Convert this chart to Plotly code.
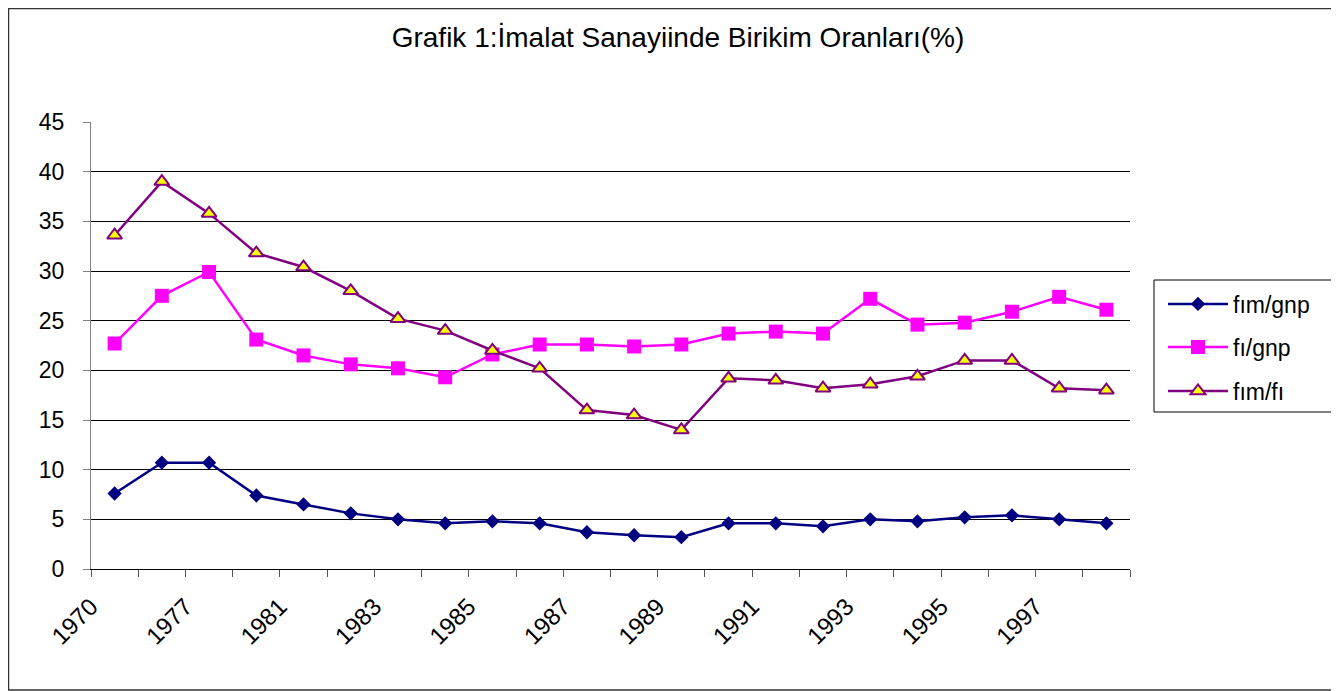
import plotly.graph_objects as go

# ---- data ----
years = ["1970", "1975", "1977", "1980", "1981", "1982", "1983", "1984", "1985", "1986",
         "1987", "1988", "1989", "1990", "1991", "1992", "1993", "1994", "1995", "1996",
         "1997", "1998"]
fim_gnp = [7.6, 10.7, 10.7, 7.4, 6.5, 5.6, 5.0, 4.6, 4.8, 4.6,
           3.7, 3.4, 3.2, 4.6, 4.6, 4.3, 5.0, 4.8, 5.2, 5.4,
           5.0, 4.6]
fi_gnp = [22.7, 27.5, 29.9, 23.1, 21.5, 20.6, 20.2, 19.3, 21.6, 22.6,
          22.6, 22.4, 22.6, 23.7, 23.9, 23.7, 27.2, 24.6, 24.8, 25.9,
          27.4, 26.1]
fim_fi = [33.6, 39.0, 35.8, 31.8, 30.4, 28.0, 25.2, 24.0, 22.0, 20.2,
          16.0, 15.5, 14.0, 19.2, 19.0, 18.2, 18.6, 19.4, 21.0, 21.0,
          18.2, 18.0]
series_names = ["fım/gnp", "fı/gnp", "fım/fı"]
title_text = "Grafik 1:İmalat Sanayiinde Birikim Oranları(%)"

# page offset (default body margin of the html page)
OX, OY = 8, 8
W, H = 1339 - OX, 691 - OY
L = 91 - OX
T = 122 - OY
PW = 1130 - 91
PH = 569 - 122
R = W - L - PW
B = H - T - PH

def px_x(p):  # page pixel x -> paper
    return (p - OX - L) / PW

def px_y(p):  # page pixel y -> paper
    return (T + PH - (p - OY)) / PH

FONT = "Arial, 'Liberation Sans', sans-serif"
idx = list(range(len(years)))

fig = go.Figure()
fig.add_trace(go.Scatter(
    x=idx, y=fim_gnp, name=series_names[0], mode="lines+markers",
    line=dict(color="#000080", width=2.5),
    marker=dict(symbol="diamond", size=11, color="#000080", line=dict(width=0)),
    cliponaxis=False, legend="legend", showlegend=True))
fig.add_trace(go.Scatter(
    x=idx, y=fi_gnp, name=series_names[1], mode="lines+markers",
    line=dict(color="#FF00FF", width=2.5),
    marker=dict(symbol="square", size=14, color="#FF00FF", line=dict(width=0)),
    cliponaxis=False, legend="legend2", showlegend=True))
fig.add_trace(go.Scatter(
    x=idx, y=fim_fi, name=series_names[2], mode="lines+markers",
    line=dict(color="#800080", width=2.5),
    marker=dict(symbol="triangle-up", size=13, color="#FFFF00",
                line=dict(color="#800080", width=2)),
    cliponaxis=False, legend="legend3", showlegend=True))

tickvals = [i - 0.5 for i in range(len(years) + 1)]
ticktext = [years[i] if i % 2 == 0 else "" for i in range(len(years))] + [""]

leg_common = dict(
    xanchor="left", yanchor="middle", borderwidth=0, bgcolor="rgba(0,0,0,0)",
    itemwidth=60,
    font=dict(family=FONT, size=23, color="black"))

fig.update_layout(
    width=W, height=H,
    showlegend=True,
    margin=dict(l=L, r=R, t=T, b=B, autoexpand=False),
    paper_bgcolor="white", plot_bgcolor="white",
    font=dict(family=FONT, size=22, color="black"),
    title=dict(text=title_text, x=(678 - OX) / W, xref="container", xanchor="center",
               y=1 - (37 - OY) / H, yref="container", yanchor="middle",
               font=dict(family=FONT, size=28, color="black")),
    xaxis=dict(range=[-0.5, len(years) - 0.5], tickmode="array",
               tickvals=tickvals, ticktext=ticktext, tickangle=-45,
               showgrid=False, zeroline=False, showline=True,
               linecolor="black", linewidth=1, ticks="outside", ticklen=7,
               tickcolor="#555555", tickwidth=1, ticklabelstandoff=6,
               tickfont=dict(family=FONT, size=24, color="black")),
    yaxis=dict(range=[0, 45], dtick=5, tick0=0, showgrid=True,
               gridcolor="black", gridwidth=1, zeroline=False,
               showline=True, linecolor="#808080", linewidth=1,
               ticks="outside", ticklen=7, tickcolor="#808080",
               ticklabelstandoff=14,
               tickfont=dict(family=FONT, size=23, color="black")),
    legend=dict(x=px_x(1163), y=px_y(304), **leg_common),
    legend2=dict(x=px_x(1163), y=px_y(347), **leg_common),
    legend3=dict(x=px_x(1163), y=px_y(391), **leg_common),
    shapes=[
        dict(type="rect", xref="paper", yref="paper",
             x0=px_x(8.5), x1=px_x(1360), y0=px_y(690), y1=px_y(8.5),
             line=dict(color="#333333", width=1.5), fillcolor="rgba(0,0,0,0)",
             layer="below"),
        dict(type="rect", xref="paper", yref="paper",
             x0=px_x(1154), x1=px_x(1360), y0=px_y(412), y1=px_y(280),
             line=dict(color="black", width=1), fillcolor="rgba(0,0,0,0)"),
    ],
)

fig.write_html("out.html")
